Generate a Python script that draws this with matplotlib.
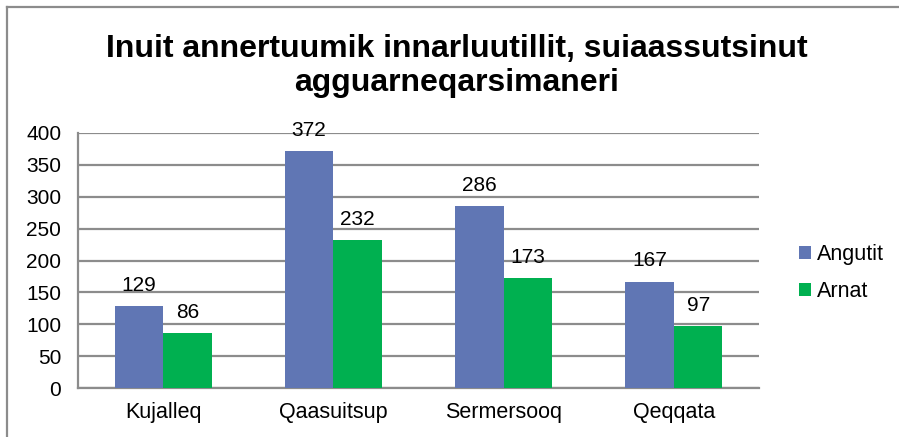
import matplotlib
matplotlib.use("Agg")
import matplotlib.pyplot as plt
import numpy as np
from matplotlib.lines import Line2D

categories = ["Kujalleq", "Qaasuitsup", "Sermersooq", "Qeqqata"]
angutit = [129, 372, 286, 167]
arnat = [86, 232, 173, 97]
series_names = ["Angutit", "Arnat"]
title = "Inuit annertuumik innarluutillit, suiaassutsinut\nagguarneqarsimaneri"
yticks = [0, 50, 100, 150, 200, 250, 300, 350, 400]

plt.rcParams['font.family'] = ['Liberation Sans', 'DejaVu Sans']

W, H = 899, 437
fig = plt.figure(figsize=(W / 100, H / 100), dpi=100)
ax = fig.add_axes([78 / W, 1 - 388 / H, (759 - 78) / W, (388 - 133) / H])

blue = "#6076B4"
green = "#00B050"
grid_c = "#8C8C8C"

x = np.arange(len(categories))
bw = 0.285
b1 = ax.bar(x - bw / 2, angutit, bw, color=blue, label=series_names[0], zorder=3)
b2 = ax.bar(x + bw / 2, arnat, bw, color=green, label=series_names[1], zorder=3)

for bars, vals in ((b1, angutit), (b2, arnat)):
    for r, v in zip(bars, vals):
        ax.annotate(str(v), (r.get_x() + r.get_width() / 2, v), xytext=(0, 8),
                    textcoords="offset points", ha="center", va="bottom",
                    fontsize=15, color="#000000", zorder=4)

ax.set_xlim(-0.5, len(categories) - 0.5)
ax.set_ylim(0, 400)
ax.set_yticks(yticks)
ax.set_yticklabels([str(t) for t in yticks], fontsize=15)
ax.set_xticks(x)
ax.set_xticklabels(categories, fontsize=15.5)
ax.tick_params(axis="y", length=0, pad=12)
ax.tick_params(axis="x", length=0, pad=10)
ax.yaxis.grid(True, color=grid_c, linewidth=1.6, zorder=0)
ax.set_axisbelow(True)
for s in ("top", "right"):
    ax.spines[s].set_visible(False)
for s in ("left", "bottom"):
    ax.spines[s].set_color(grid_c)
    ax.spines[s].set_linewidth(1.6)

fig.text(457 / W, 1 - 66 / H, title, ha="center", va="center",
         fontsize=23, fontweight="bold", linespacing=1.2)

leg = fig.legend(handles=[b1, b2], labels=series_names, loc="center left",
                 bbox_to_anchor=(799 / W, 1 - 273 / H), frameon=False,
                 borderaxespad=0, borderpad=0,
                 fontsize=15.5, handlelength=0.55, handleheight=0.55,
                 handletextpad=0.3, labelspacing=0.72)

ybord = 1 - 6.5 / H
xbord = 7 / W
fig.lines.append(Line2D([xbord, xbord], [0, ybord], transform=fig.transFigure,
                        color="#8C8C8C", linewidth=1.6))
fig.lines.append(Line2D([xbord, 1.0], [ybord, ybord], transform=fig.transFigure,
                        color="#8C8C8C", linewidth=1.6))

fig.savefig("out.png", dpi=100)
